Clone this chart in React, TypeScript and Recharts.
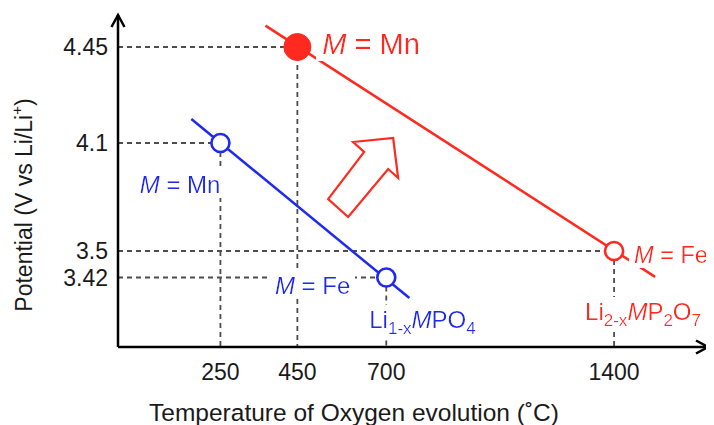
import React from 'react';
import { ComposedChart, Line, Scatter, XAxis, YAxis, ReferenceLine, ReferenceDot } from 'recharts';

// ---------------- data ----------------
const tempTicks = [250, 450, 700, 1400];
const potentialTicks = [3.42, 3.5, 4.1, 4.45];
const tempDomain: [number, number] = [0, 1700];
const potentialDomain: [number, number] = [3.2, 4.57];

// schematic (non-linear) axes: value -> share of the axis length
const tempScaleValues = [0, 250, 450, 700, 1400, 1700];
const tempScaleShares = [0, 0.1736, 0.304, 0.4547, 0.8408, 1];
const potentialScaleValues = [3.2, 3.42, 3.5, 4.1, 4.45, 4.57];
const potentialScaleShares = [0, 0.2093, 0.2892, 0.6145, 0.9036, 1];

// Li1-xMPO4 (blue)
const olivineMetals = ['Mn', 'Fe'];
const olivineTemps = [250, 700];
const olivinePotentials = [4.1, 3.42];
const olivineTrendTemps = [179, 771];
const olivineTrendPotentials = [4.1875, 3.355];

// Li2-xMP2O7 (red)
const pyroMetals = ['Mn', 'Fe'];
const pyroTemps = [450, 1400];
const pyroPotentials = [4.45, 3.5];
const pyroTrendTemps = [367, 1531];
const pyroTrendPotentials = [4.53, 3.422];

const improvementArrowAt = { t: 635, v: 3.911 };

const xTitle = 'Temperature of Oxygen evolution (˚C)';

// ---------------- style ----------------
const RED = '#ff2a1f';
const BLUE = '#1f2af0';
const GUIDE = '#4d4d4d';
const FONT = '"Liberation Sans", Arial, Helvetica, sans-serif';
const pyroMarkerFilled = [true, false];
const olivineMarkerFilled = [false, false];

type Placement = { dx: number; dy: number; anchor: 'start' | 'end' | 'middle'; size: number };
const olivineMetalPlacement: Placement[] = [
  { dx: 0, dy: 50, anchor: 'end', size: 24 },
  { dx: -36, dy: 16, anchor: 'end', size: 24 },
];
const pyroMetalPlacement: Placement[] = [
  { dx: 25, dy: 7, anchor: 'start', size: 29 },
  { dx: 20, dy: 12, anchor: 'start', size: 23.5 },
];
const olivineFormulaPlacement: Placement = { dx: -17, dy: 50, anchor: 'start', size: 24 };
const pyroFormulaPlacement: Placement = { dx: -29, dy: 69, anchor: 'start', size: 24 };

// ---------------- helpers ----------------
function makePiecewiseScale(values: number[], shares: number[]): any {
  let dom = [values[0], values[values.length - 1]];
  let rng = [0, 1];
  const share = (v: number) => {
    const n = values.length;
    let i = 0;
    while (i < n - 2 && v > values[i + 1]) i++;
    return shares[i] + ((v - values[i]) / (values[i + 1] - values[i])) * (shares[i + 1] - shares[i]);
  };
  const scale: any = (v: number) => rng[0] + share(Number(v)) * (rng[1] - rng[0]);
  scale.domain = (d?: number[]) => {
    if (d === undefined) return dom.slice();
    dom = d.slice();
    return scale;
  };
  scale.range = (r?: number[]) => {
    if (r === undefined) return rng.slice();
    rng = r.slice();
    return scale;
  };
  scale.copy = () => {
    const s = makePiecewiseScale(values, shares);
    s.domain(dom);
    s.range(rng);
    return s;
  };
  scale.ticks = () => values.slice();
  scale.tickFormat = () => (v: number) => String(v);
  scale.invert = (px: number) => {
    const f = (px - rng[0]) / (rng[1] - rng[0]);
    let i = 0;
    while (i < shares.length - 2 && f > shares[i + 1]) i++;
    return values[i] + ((f - shares[i]) / (shares[i + 1] - shares[i])) * (values[i + 1] - values[i]);
  };
  return scale;
}

const tempScale = makePiecewiseScale(tempScaleValues, tempScaleShares);
const potentialScale = makePiecewiseScale(potentialScaleValues, potentialScaleShares);

const olivinePoints = olivineTemps.map((t, i) => ({ t, v: olivinePotentials[i], metal: olivineMetals[i], filled: olivineMarkerFilled[i] }));
const pyroPoints = pyroTemps.map((t, i) => ({ t, v: pyroPotentials[i], metal: pyroMetals[i], filled: pyroMarkerFilled[i] }));
const olivineTrend = olivineTrendTemps.map((t, i) => ({ t, v: olivineTrendPotentials[i] }));
const pyroTrend = pyroTrendTemps.map((t, i) => ({ t, v: pyroTrendPotentials[i] }));

type Piece = { text: string; italic?: boolean; sub?: boolean; sup?: boolean };
const metalPieces = (metal: string): Piece[] => [{ text: 'M', italic: true }, { text: ' = ' + metal }];
const olivineFormula: Piece[] = [
  { text: 'Li' }, { text: '1-x', sub: true }, { text: 'M', italic: true }, { text: 'PO' }, { text: '4', sub: true },
];
const pyroFormula: Piece[] = [
  { text: 'Li' }, { text: '2-x', sub: true }, { text: 'M', italic: true }, { text: 'P' }, { text: '2', sub: true },
  { text: 'O' }, { text: '7', sub: true },
];

function RichText({ x, y, pieces, color, size, anchor, bg = true }: any) {
  const small = Math.round(size * 0.7);
  const shift = Math.round(size * 0.27);
  let offset = 0;
  const nodes = pieces.map((p: Piece, i: number) => {
    const target = p.sub ? shift : p.sup ? -Math.round(size * 0.4) : 0;
    const dy = target - offset;
    offset = target;
    return (
      <tspan key={i} dy={dy} fontSize={p.sub || p.sup ? small : size} fontStyle={p.italic ? 'italic' : 'normal'}>
        {p.text}
      </tspan>
    );
  });
  return (
    <text x={x} y={y} fill={color} fontFamily={FONT} fontSize={size} textAnchor={anchor}
      filter={bg ? 'url(#labelBg)' : undefined} style={{ whiteSpace: 'pre' }}>
      {nodes}
    </text>
  );
}

const labelShape = (pieces: Piece[], color: string, pl: Placement) => (p: any) => (
  <RichText x={p.cx + pl.dx} y={p.cy + pl.dy} pieces={pieces} color={color} size={pl.size} anchor={pl.anchor} />
);

const markerShape = (color: string) => (p: any) => {
  const filled = p.payload && p.payload.filled;
  return filled ? (
    <circle cx={p.cx} cy={p.cy} r={13.5} fill={color} stroke={color} strokeWidth={1} />
  ) : (
    <circle cx={p.cx} cy={p.cy} r={9} fill="#fff" stroke={color} strokeWidth={2.6} />
  );
};

const arrowOffsets = [[-10, -35], [30, -39], [35, 1], [25, -8], [-15, 40], [-35, 22], [1, -25]];
const arrowShape = (p: any) => (
  <polygon points={arrowOffsets.map(([dx, dy]) => `${p.cx + dx},${p.cy + dy}`).join(' ')}
    fill="#fff" stroke={RED} strokeWidth={2.2} strokeLinejoin="miter" />
);

const YTitle = (props: any) => {
  const vb = props.viewBox || { x: 0, y: 7, width: 110, height: 332 };
  const x = vb.x + 16;
  const y = vb.y + vb.height / 2 + 24;
  return (
    <text x={x} y={y} transform={`rotate(-90, ${x}, ${y})`} textAnchor="middle" dominantBaseline="central"
      fill="#1a1a1a" fontFamily={FONT} fontSize={23}>
      <tspan>Potential (V vs Li/Li</tspan>
      <tspan dy={-8} fontSize={15}>+</tspan>
      <tspan dy={8}>)</tspan>
    </text>
  );
};

const guideSegments = [...olivinePoints, ...pyroPoints].flatMap((pt) => [
  [{ x: tempDomain[0], y: pt.v }, { x: pt.t, y: pt.v }],
  [{ x: pt.t, y: pt.v }, { x: pt.t, y: potentialDomain[0] }],
]);

export default function App() {
  return (
    <div style={{ width: 706, height: 417 }}>
      <svg width={0} height={0} style={{ position: 'absolute' }}>
        <defs>
          <marker id="axArrow" markerUnits="userSpaceOnUse" markerWidth={30} markerHeight={30} refX={15} refY={15}
            viewBox="0 0 30 30" orient="auto-start-reverse" overflow="visible">
            <path d="M3,8.5 L15,15 L3,21.5" fill="none" stroke="#000" strokeWidth={2.5} />
          </marker>
          <filter id="labelBg" x="-0.06" y="0" width="1.12" height="1">
            <feFlood floodColor="#fff" />
            <feComposite in="SourceGraphic" operator="over" />
          </filter>
        </defs>
      </svg>
      <ComposedChart width={706} height={417} margin={{ top: 7, right: 6, bottom: 0, left: 0 }} style={{ overflow: 'visible' }}>
        <XAxis dataKey="t" type="number" domain={tempDomain} scale={tempScale} ticks={tempTicks}
          height={78} tickLine={false} tickMargin={11} interval={0}
          tick={{ fill: '#1a1a1a', fontSize: 23, fontFamily: FONT }}
          axisLine={{ stroke: '#000', strokeWidth: 2.5, markerEnd: 'url(#axArrow)' }}
          label={{ value: xTitle, position: 'insideBottom', offset: 4, dx: -59, fill: '#1a1a1a', fontSize: 24.5, fontFamily: FONT }} />
        <YAxis dataKey="v" type="number" domain={potentialDomain} scale={potentialScale} ticks={potentialTicks}
          width={110} tickLine={false} tickMargin={4} interval={0}
          tick={{ fill: '#1a1a1a', fontSize: 23, fontFamily: FONT }}
          axisLine={{ stroke: '#000', strokeWidth: 2.5, markerStart: 'url(#axArrow)' }}
          label={{ content: (p: any) => <YTitle {...p} /> }} />
        {guideSegments.map((seg, i) => (
          <ReferenceLine key={'g' + i} segment={seg} stroke={GUIDE} strokeWidth={1.8} strokeDasharray="5 4" ifOverflow="visible" />
        ))}
        <Line data={pyroTrend} dataKey="v" stroke={RED} strokeWidth={2.5} dot={false} activeDot={false} isAnimationActive={false} />
        <Line data={olivineTrend} dataKey="v" stroke={BLUE} strokeWidth={2.5} dot={false} activeDot={false} isAnimationActive={false} />
        <Scatter data={pyroPoints} dataKey="v" shape={markerShape(RED)} isAnimationActive={false} />
        <Scatter data={olivinePoints} dataKey="v" shape={markerShape(BLUE)} isAnimationActive={false} />
        <ReferenceDot x={improvementArrowAt.t} y={improvementArrowAt.v} r={1} shape={arrowShape} ifOverflow="visible" />
        {olivinePoints.map((pt, i) => (
          <ReferenceDot key={'om' + i} x={pt.t} y={pt.v} r={1} ifOverflow="visible"
            shape={labelShape(metalPieces(pt.metal), BLUE, olivineMetalPlacement[i])} />
        ))}
        {pyroPoints.map((pt, i) => (
          <ReferenceDot key={'pm' + i} x={pt.t} y={pt.v} r={1} ifOverflow="visible"
            shape={labelShape(metalPieces(pt.metal), RED, pyroMetalPlacement[i])} />
        ))}
        <ReferenceDot x={olivinePoints[1].t} y={olivinePoints[1].v} r={1} ifOverflow="visible"
          shape={labelShape(olivineFormula, BLUE, olivineFormulaPlacement)} />
        <ReferenceDot x={pyroPoints[1].t} y={pyroPoints[1].v} r={1} ifOverflow="visible"
          shape={labelShape(pyroFormula, RED, pyroFormulaPlacement)} />
      </ComposedChart>
    </div>
  );
}
